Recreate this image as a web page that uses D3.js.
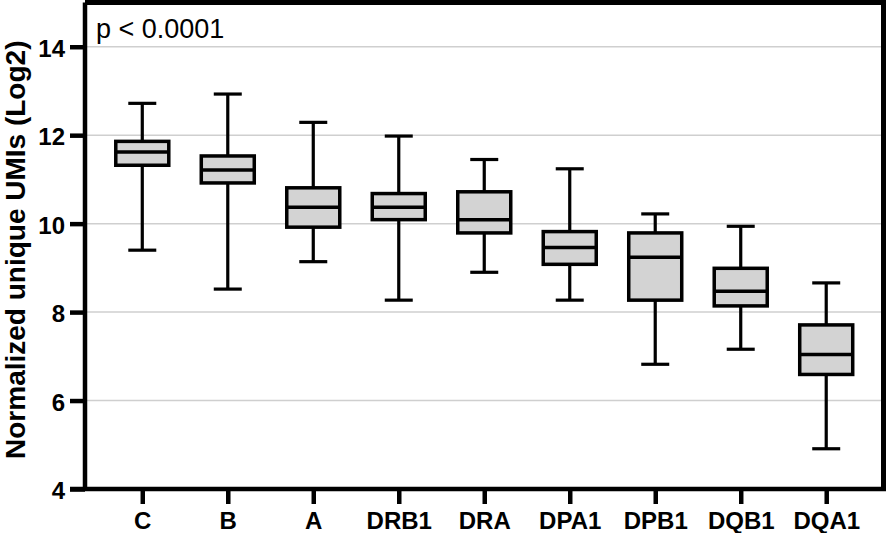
<!DOCTYPE html>
<html>
<head>
<meta charset="utf-8">
<script src="https://cdn.jsdelivr.net/npm/d3@7"></script>
<style>
  html, body { margin: 0; padding: 0; background: #fff; }
  svg { display: block; }
</style>
</head>
<body>
<svg id="chart" width="886" height="533"></svg>
<script>
// ---- data ----
const categories = ["C", "B", "A", "DRB1", "DRA", "DPA1", "DPB1", "DQB1", "DQA1"];
const whiskerLow  = [9.40, 8.52, 9.14, 8.27, 8.90, 8.27, 6.82, 7.16, 4.91];
const q1          = [11.32, 10.92, 9.92, 10.09, 9.79, 9.08, 8.27, 8.14, 6.59];
const median      = [11.62, 11.21, 10.37, 10.37, 10.09, 9.46, 9.24, 8.47, 7.04];
const q3          = [11.86, 11.53, 10.81, 10.68, 10.72, 9.82, 9.79, 8.99, 7.71];
const whiskerHigh = [12.72, 12.93, 12.29, 11.98, 11.45, 11.24, 10.22, 9.94, 8.66];
const yTicks = [4, 6, 8, 10, 12, 14];
const gridTicks = [6, 8, 10, 12, 14];
const yTitle = "Normalized unique UMIs (Log2)";
const annotation = "p < 0.0001";

const rows = categories.map((c, i) => ({
  cat: c, lo: whiskerLow[i], q1: q1[i], med: median[i], q3: q3[i], hi: whiskerHigh[i]
}));

// ---- layout ----
const svg = d3.select("#chart");
const L = 85, R = 883.5, T = 2.5, B = 489;
const font = "'Liberation Sans', Arial, sans-serif";

const x = d3.scalePoint().domain(categories).range([L, R]).padding(0.67);
const y = d3.scaleLinear().domain([4, 15]).range([B, T]);

const boxW = 53, capW = 28;

// gridlines
svg.append("g").selectAll("line").data(gridTicks).join("line")
  .attr("x1", L).attr("x2", R)
  .attr("y1", d => y(d)).attr("y2", d => y(d))
  .attr("stroke", "#cfcfcf").attr("stroke-width", 1.5);

// boxes
const g = svg.append("g");
const bx = g.selectAll("g.box").data(rows).join("g").attr("class", "box");
bx.append("line")
  .attr("x1", d => x(d.cat)).attr("x2", d => x(d.cat))
  .attr("y1", d => y(d.hi)).attr("y2", d => y(d.q3))
  .attr("stroke", "#000").attr("stroke-width", 3.2);
bx.append("line")
  .attr("x1", d => x(d.cat)).attr("x2", d => x(d.cat))
  .attr("y1", d => y(d.q1)).attr("y2", d => y(d.lo))
  .attr("stroke", "#000").attr("stroke-width", 3.2);
bx.append("line")
  .attr("x1", d => x(d.cat) - capW / 2).attr("x2", d => x(d.cat) + capW / 2)
  .attr("y1", d => y(d.hi)).attr("y2", d => y(d.hi))
  .attr("stroke", "#000").attr("stroke-width", 3.2);
bx.append("line")
  .attr("x1", d => x(d.cat) - capW / 2).attr("x2", d => x(d.cat) + capW / 2)
  .attr("y1", d => y(d.lo)).attr("y2", d => y(d.lo))
  .attr("stroke", "#000").attr("stroke-width", 3.2);
bx.append("rect")
  .attr("x", d => x(d.cat) - boxW / 2).attr("width", boxW)
  .attr("y", d => y(d.q3)).attr("height", d => y(d.q1) - y(d.q3))
  .attr("fill", "#d3d3d3").attr("stroke", "#000").attr("stroke-width", 3.5);
bx.append("line")
  .attr("x1", d => x(d.cat) - boxW / 2).attr("x2", d => x(d.cat) + boxW / 2)
  .attr("y1", d => y(d.med)).attr("y2", d => y(d.med))
  .attr("stroke", "#000").attr("stroke-width", 3.5);

// frame (top & right)
svg.append("path")
  .attr("d", `M${L},${T}H${R}V${B}`)
  .attr("fill", "none").attr("stroke", "#000").attr("stroke-width", 5);

// y axis
const yAxis = d3.axisLeft(y).tickValues(yTicks).tickSize(15).tickPadding(5).tickFormat(d3.format("d"));
const ya = svg.append("g").attr("transform", `translate(${L},0)`).call(yAxis);
ya.select(".domain").attr("stroke", "#000").attr("stroke-width", 4.5)
  .attr("d", `M0,${B + 2}V${T}`);
ya.selectAll(".tick line").attr("stroke", "#000").attr("stroke-width", 4.5);
ya.selectAll(".tick text")
  .attr("font-family", font).attr("font-weight", "bold").attr("font-size", 24)
  .attr("fill", "#000").attr("dy", "0.4em");

// x axis
const xAxis = d3.axisBottom(x).tickSize(15).tickPadding(8);
const xa = svg.append("g").attr("transform", `translate(0,${B})`).call(xAxis);
xa.select(".domain").attr("stroke", "#000").attr("stroke-width", 4.5)
  .attr("d", `M${L - 15},0H${R + 2.5}`);
xa.selectAll(".tick line").attr("stroke", "#000").attr("stroke-width", 4.5);
xa.selectAll(".tick text")
  .attr("font-family", font).attr("font-weight", "bold").attr("font-size", 24)
  .attr("fill", "#000");

// y title
svg.append("text")
  .attr("transform", `translate(25,${(T + B) / 2 + 4}) rotate(-90)`)
  .attr("text-anchor", "middle")
  .attr("font-family", font).attr("font-weight", "bold").attr("font-size", 28)
  .attr("fill", "#000")
  .text(yTitle);

// annotation
svg.append("text")
  .attr("x", 96).attr("y", 38)
  .attr("font-family", font).attr("font-size", 27).attr("fill", "#000")
  .text(annotation);
</script>
</body>
</html>
